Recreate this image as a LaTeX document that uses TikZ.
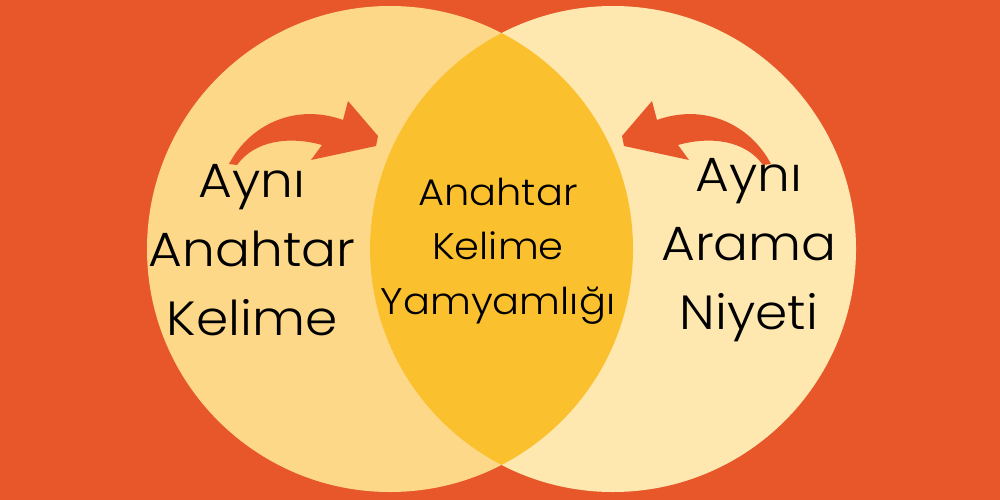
\documentclass[tikz,border=0pt]{standalone}
\usepackage{fontspec}
\setmainfont{Poppins}[UprightFont=* Light,FakeStretch=1.08]
\definecolor{bgorange}{HTML}{E8572A}
\definecolor{leftdisc}{HTML}{FDD888}
\definecolor{rightdisc}{HTML}{FEE8B0}
\definecolor{lensgold}{HTML}{FBC02E}
\begin{document}
\begin{tikzpicture}[x=1pt,y=-1pt,
  bigtext/.style={align=center,font=\fontsize{48}{69}\selectfont},
  smalltext/.style={align=center,font=\fontsize{37}{54.5}\selectfont},
  swoosh/.pic={\fill[bgorange] (229,164) .. controls (250,124) and (296,103) .. (343,120)
      -- (348,101) -- (378,136) -- (376,146) -- (311,160) -- (322,145)
      .. controls (290,136) and (255,140) .. (237,165) -- cycle;}]
\fill[bgorange] (0,0) rectangle (1000,500);
\useasboundingbox (0,0) rectangle (1000,500);
\coordinate (cl) at (390,249);
\coordinate (cr) at (613,249);
\fill[leftdisc] (cl) circle[radius=243];
\fill[rightdisc] (cr) circle[radius=243];
\begin{scope}
\clip (cl) circle[radius=243];
\fill[lensgold] (cr) circle[radius=243];
\end{scope}
\pic (arrowl) at (0,0) {swoosh};
\pic[shift={(1000,0)},xscale=-1] (arrowr) at (0,0) {swoosh};
\node[bigtext] (leftlabel) at (252,250) {Aynı\\Anahtar\\Kelime};
\node[bigtext] (rightlabel) at (749,250) {Aynı\\Arama\\Niyeti};
\node[smalltext] (midlabel) at (498,251) {Anahtar\\Kelime\\Yamyamlığı};
\end{tikzpicture}
\end{document}
